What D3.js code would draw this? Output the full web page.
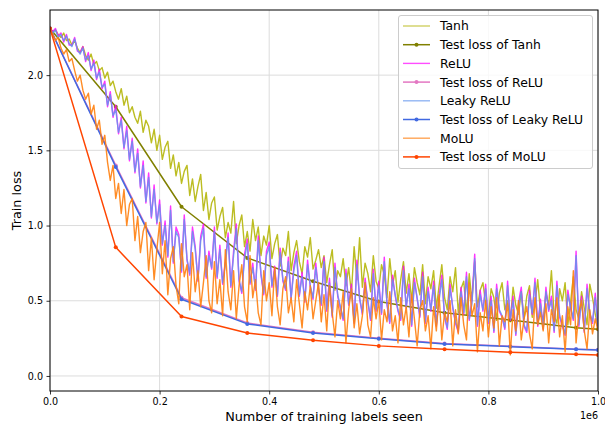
<!DOCTYPE html>
<html>
<head>
<meta charset="utf-8">
<script src="https://cdn.jsdelivr.net/npm/d3@7"></script>
<style>
  body { margin: 0; background: #fff; }
  text { font-family: "DejaVu Sans", sans-serif; }
</style>
</head>
<body>
<svg id="chart" width="605" height="424"></svg>
<script>
// training loss recorded every 5000 labels, test loss every 120000
var trainStep = 5000;

var tanhTrain = [
  2.31, 2.29, 2.30, 2.27, 2.25, 2.28, 2.23, 2.24, 2.20, 2.23, 2.18, 2.15, 2.19, 2.13, 2.10, 2.14, 2.07, 2.09, 2.03, 2.05,
  1.98, 2.02, 1.93, 1.96, 1.89, 1.84, 1.91, 1.80, 1.86, 1.75, 1.79, 1.72, 1.68, 1.76, 1.62, 1.70, 1.66, 1.55, 1.64, 1.50,
  1.60, 1.44, 1.52, 1.56, 1.38, 1.47, 1.33, 1.42, 1.28, 1.36, 1.40, 1.20, 1.31, 1.16, 1.26, 1.34, 1.10, 1.22, 1.04, 1.15,
  1.19, 0.97, 1.06, 1.12, 0.92, 1.02, 0.95, 1.16, 0.88, 1.00, 1.07, 0.86, 0.96, 0.83, 1.04, 0.90, 0.99, 0.80, 0.93, 0.87,
  1.00, 0.78, 0.88, 0.94, 0.73, 0.85, 0.80, 0.96, 0.70, 0.82, 0.90, 0.76, 0.68, 0.86, 0.79, 0.92, 0.71, 0.77, 0.84, 0.72,
  0.80, 0.62, 0.74, 0.84, 0.57, 0.70, 0.66, 0.78, 0.60, 0.72, 0.55, 0.86, 0.64, 0.92, 0.59, 0.75, 0.68, 0.56, 0.80, 0.63,
  0.58, 0.74, 0.67, 0.52, 0.78, 0.60, 0.70, 0.49, 0.64, 0.76, 0.55, 0.68, 0.50, 0.72, 0.62, 0.54, 0.74, 0.48, 0.66, 0.58,
  0.70, 0.45, 0.60, 0.74, 0.52, 0.44, 0.66, 0.56, 0.72, 0.42, 0.58, 0.63, 0.41, 0.68, 0.50, 0.76, 0.46, 0.57, 0.62, 0.48,
  0.40, 0.58, 0.52, 0.37, 0.55, 0.62, 0.44, 0.50, 0.36, 0.59, 0.47, 0.41, 0.56, 0.38, 0.53, 0.60, 0.39, 0.48, 0.64, 0.43,
  0.37, 0.55, 0.47, 0.70, 0.40, 0.35, 0.58, 0.50, 0.62, 0.34, 0.49, 0.66, 0.44, 0.38, 0.56, 0.45, 0.34, 0.61, 0.52, 0.41,
  0.33
];

var reluTrain = [
  2.31, 2.29, 2.31, 2.26, 2.28, 2.22, 2.27, 2.20, 2.20, 2.25, 2.16, 2.15, 2.19, 2.09, 2.15, 2.03, 2.10, 1.97, 2.04, 1.91,
  1.96, 1.79, 1.89, 1.72, 1.80, 1.61, 1.72, 1.51, 1.66, 1.43, 1.58, 1.35, 1.51, 1.25, 1.43, 1.15, 1.35, 1.05, 1.27, 1.01,
  1.17, 0.87, 1.03, 0.79, 1.13, 0.75, 0.99, 0.94, 0.69, 1.07, 0.77, 0.67, 0.99, 0.86, 0.63, 0.93, 1.01, 0.65, 0.83, 0.71,
  0.99, 0.65, 0.87, 0.61, 0.76, 0.95, 0.59, 0.83, 1.01, 0.63, 0.55, 0.81, 0.91, 0.61, 0.75, 0.57, 0.93, 0.67, 0.54, 0.83,
  0.89, 0.59, 0.73, 0.53, 0.85, 0.63, 0.57, 0.79, 0.51, 0.73, 0.83, 0.53, 0.69, 0.49, 0.77, 0.59, 0.51, 0.75, 0.57, 0.47,
  0.79, 0.43, 0.65, 0.39, 0.75, 0.53, 0.45, 0.37, 0.71, 0.47, 0.61, 0.35, 0.77, 0.51, 0.41, 0.65, 0.49, 0.37, 0.71, 0.43,
  0.63, 0.41, 0.79, 0.47, 0.35, 0.67, 0.53, 0.43, 0.37, 0.73, 0.45, 0.61, 0.33, 0.65, 0.51, 0.39, 0.69, 0.35, 0.59, 0.43,
  0.63, 0.33, 0.53, 0.67, 0.39, 0.31, 0.61, 0.45, 0.35, 0.29, 0.59, 0.41, 0.69, 0.37, 0.51, 0.81, 0.33, 0.57, 0.43, 0.61,
  0.35, 0.53, 0.29, 0.61, 0.43, 0.39, 0.31, 0.63, 0.37, 0.53, 0.27, 0.49, 0.59, 0.33, 0.29, 0.57, 0.41, 0.65, 0.33, 0.51,
  0.31, 0.59, 0.43, 0.53, 0.29, 0.63, 0.39, 0.33, 0.27, 0.57, 0.45, 0.37, 0.83, 0.33, 0.53, 0.29, 0.61, 0.41, 0.35, 0.55,
  0.33
];

var leakyTrain = [
  2.31, 2.28, 2.30, 2.25, 2.27, 2.23, 2.26, 2.21, 2.19, 2.24, 2.17, 2.14, 2.18, 2.10, 2.13, 2.04, 2.08, 1.98, 2.02, 1.92,
  1.94, 1.80, 1.87, 1.73, 1.77, 1.62, 1.70, 1.52, 1.63, 1.44, 1.56, 1.36, 1.48, 1.26, 1.40, 1.16, 1.32, 1.06, 1.24, 1.02,
  1.14, 0.88, 1.00, 0.80, 1.10, 0.76, 0.96, 0.92, 0.70, 1.04, 0.78, 0.68, 0.96, 0.84, 0.64, 0.90, 0.98, 0.66, 0.80, 0.72,
  0.96, 0.66, 0.84, 0.62, 0.74, 0.92, 0.60, 0.80, 0.98, 0.64, 0.56, 0.78, 0.88, 0.62, 0.72, 0.58, 0.90, 0.68, 0.55, 0.80,
  0.86, 0.60, 0.70, 0.54, 0.82, 0.64, 0.58, 0.76, 0.52, 0.70, 0.80, 0.54, 0.66, 0.50, 0.74, 0.60, 0.52, 0.72, 0.58, 0.48,
  0.76, 0.44, 0.62, 0.40, 0.72, 0.54, 0.46, 0.38, 0.68, 0.48, 0.58, 0.36, 0.74, 0.52, 0.42, 0.62, 0.50, 0.38, 0.68, 0.44,
  0.60, 0.42, 0.76, 0.48, 0.36, 0.64, 0.54, 0.44, 0.38, 0.70, 0.46, 0.58, 0.34, 0.62, 0.52, 0.40, 0.66, 0.36, 0.56, 0.44,
  0.60, 0.34, 0.50, 0.64, 0.40, 0.32, 0.58, 0.46, 0.36, 0.30, 0.56, 0.42, 0.66, 0.38, 0.48, 0.78, 0.34, 0.54, 0.44, 0.58,
  0.36, 0.50, 0.30, 0.58, 0.44, 0.40, 0.32, 0.60, 0.38, 0.50, 0.28, 0.46, 0.56, 0.34, 0.30, 0.54, 0.42, 0.62, 0.34, 0.48,
  0.32, 0.56, 0.44, 0.50, 0.30, 0.60, 0.40, 0.34, 0.28, 0.54, 0.46, 0.38, 0.80, 0.34, 0.50, 0.30, 0.58, 0.42, 0.36, 0.52,
  0.32
];

var moluTrain = [
  2.31, 2.27, 2.23, 2.25, 2.18, 2.14, 2.17, 2.09, 2.11, 2.03, 1.96, 2.00, 1.90, 1.84, 1.88, 1.74, 1.80, 1.64, 1.70, 1.54,
  1.60, 1.42, 1.30, 1.40, 1.18, 1.28, 1.08, 1.24, 1.00, 1.14, 1.18, 0.90, 1.06, 0.82, 0.96, 1.02, 0.70, 0.92, 0.64, 0.84,
  1.02, 0.68, 0.90, 0.54, 0.78, 0.86, 0.60, 0.48, 0.88, 0.66, 0.74, 0.44, 0.82, 0.56, 0.70, 0.46, 0.62, 0.80, 0.50, 0.42,
  0.76, 0.48, 0.64, 0.40, 0.84, 0.56, 0.44, 0.70, 0.38, 0.60, 0.74, 0.46, 0.36, 0.80, 0.52, 0.64, 0.42, 0.34, 0.70, 0.50,
  0.62, 0.40, 0.72, 0.46, 0.34, 0.58, 0.66, 0.42, 0.52, 0.36, 0.64, 0.48, 0.32, 0.56, 0.44, 0.60, 0.38, 0.50, 0.62, 0.36,
  0.54, 0.30, 0.60, 0.42, 0.26, 0.50, 0.38, 0.56, 0.22, 0.44, 0.58, 0.32, 0.48, 0.28, 0.40, 0.62, 0.34, 0.26, 0.52, 0.38,
  0.50, 0.24, 0.44, 0.36, 0.56, 0.30, 0.40, 0.22, 0.52, 0.34, 0.46, 0.26, 0.54, 0.38, 0.20, 0.44, 0.50, 0.30, 0.40, 0.18,
  0.46, 0.30, 0.54, 0.24, 0.42, 0.36, 0.50, 0.20, 0.44, 0.28, 0.52, 0.34, 0.24, 0.62, 0.40, 0.48, 0.16, 0.42, 0.30, 0.50,
  0.26, 0.46, 0.32, 0.52, 0.20, 0.40, 0.36, 0.48, 0.14, 0.44, 0.30, 0.50, 0.24, 0.38, 0.46, 0.28, 0.18, 0.52, 0.34, 0.42,
  0.30, 0.48, 0.22, 0.44, 0.36, 0.52, 0.26, 0.40, 0.16, 0.46, 0.34, 0.70, 0.22, 0.42, 0.50, 0.30, 0.18, 0.44, 0.28, 0.38,
  0.30
];

var testSeen = [0, 120000, 240000, 360000, 480000, 600000, 720000, 840000, 960000, 1000000];
var tanhTest  = [2.31, 1.79, 1.125, 0.785, 0.63, 0.495, 0.42, 0.372, 0.32, 0.31];
var reluTest  = [2.31, 1.40, 0.52, 0.352, 0.29, 0.25, 0.215, 0.197, 0.178, 0.175];
var leakyTest = [2.31, 1.39, 0.51, 0.346, 0.286, 0.247, 0.212, 0.195, 0.177, 0.173];
var moluTest  = [2.31, 0.855, 0.395, 0.286, 0.237, 0.20, 0.177, 0.157, 0.144, 0.14];

var xTicks = [0, 200000, 400000, 600000, 800000, 1000000];
var yTicks = [0, 0.5, 1.0, 1.5, 2.0];

var series = [
  { name: "Tanh", values: tanhTrain, color: "#bcbd22", width: 1.4, opacity: 1, marker: false },
  { name: "Test loss of Tanh", values: tanhTest, color: "#808000", width: 1.5, opacity: 1, marker: true },
  { name: "ReLU", values: reluTrain, color: "#ff00ff", width: 1.4, opacity: 0.8, marker: false },
  { name: "Test loss of ReLU", values: reluTest, color: "#e377c2", width: 1.5, opacity: 1, marker: true },
  { name: "Leaky ReLU", values: leakyTrain, color: "#6495ed", width: 1.4, opacity: 0.85, marker: false },
  { name: "Test loss of Leaky ReLU", values: leakyTest, color: "#4169e1", width: 1.5, opacity: 1, marker: true },
  { name: "MoLU", values: moluTrain, color: "#ff7f0e", width: 1.4, opacity: 0.9, marker: false },
  { name: "Test loss of MoLU", values: moluTest, color: "#ff4500", width: 1.5, opacity: 1, marker: true }
];

var W = 605, H = 424;
var margin = { top: 10, right: 7, bottom: 33, left: 50 };

var svg = d3.select("#chart");

var x = d3.scaleLinear().domain([0, 1000000]).range([margin.left, W - margin.right]);
var y = d3.scaleLinear().domain([-0.1, 2.433]).range([H - margin.bottom, margin.top]);

svg.append("clipPath").attr("id", "plot-clip")
  .append("rect")
  .attr("x", margin.left).attr("y", margin.top)
  .attr("width", W - margin.left - margin.right)
  .attr("height", H - margin.top - margin.bottom);

// grid
var grid = svg.append("g");
grid.selectAll(".gx").data(xTicks).enter().append("line")
  .attr("x1", function (d) { return x(d); }).attr("x2", function (d) { return x(d); })
  .attr("y1", margin.top).attr("y2", H - margin.bottom)
  .attr("stroke", "#dcdcdc").attr("stroke-width", 1);
grid.selectAll(".gy").data(yTicks).enter().append("line")
  .attr("y1", function (d) { return y(d); }).attr("y2", function (d) { return y(d); })
  .attr("x1", margin.left).attr("x2", W - margin.right)
  .attr("stroke", "#dcdcdc").attr("stroke-width", 1);

var plot = svg.append("g").attr("clip-path", "url(#plot-clip)");

var line = d3.line()
  .x(function (d) { return x(d[0]); })
  .y(function (d) { return y(d[1]); });

series.forEach(function (s) {
  var pts = s.marker
    ? s.values.map(function (v, i) { return [testSeen[i], v]; })
    : s.values.map(function (v, i) { return [i * trainStep, v]; });
  plot.append("path")
    .datum(pts)
    .attr("d", line)
    .attr("fill", "none")
    .attr("stroke", s.color)
    .attr("stroke-width", s.width)
    .attr("stroke-opacity", s.opacity)
    .attr("stroke-linejoin", "round");
  if (s.marker) {
    plot.selectAll(null).data(pts).enter().append("circle")
      .attr("cx", function (d) { return x(d[0]); })
      .attr("cy", function (d) { return y(d[1]); })
      .attr("r", 2)
      .attr("fill", s.color);
  }
});

// axes
var xAxis = d3.axisBottom(x).tickValues(xTicks)
  .tickFormat(function (d) { return (d / 1e6).toFixed(1); })
  .tickSize(3.5).tickPadding(3.5);
var yAxis = d3.axisLeft(y).tickValues(yTicks)
  .tickFormat(d3.format(".1f"))
  .tickSize(3.5).tickPadding(3.5);

var gx = svg.append("g").attr("transform", "translate(0," + (H - margin.bottom) + ")").call(xAxis);
var gy = svg.append("g").attr("transform", "translate(" + margin.left + ",0)").call(yAxis);
[gx, gy].forEach(function (g) {
  g.select(".domain").remove();
  g.selectAll("text").attr("font-size", 9.6).attr("fill", "#000").style("font-family", "DejaVu Sans");
  g.selectAll("line").attr("stroke", "#000").attr("stroke-width", 0.8);
});

// frame
svg.append("rect")
  .attr("x", margin.left).attr("y", margin.top)
  .attr("width", W - margin.left - margin.right)
  .attr("height", H - margin.top - margin.bottom)
  .attr("fill", "none").attr("stroke", "#000").attr("stroke-width", 1);

svg.append("text")
  .attr("x", W - margin.right).attr("y", 419)
  .attr("text-anchor", "end").attr("font-size", 9.6)
  .text("1e6");

svg.append("text")
  .attr("x", (margin.left + W - margin.right) / 2).attr("y", 421)
  .attr("text-anchor", "middle").attr("font-size", 12.8)
  .text("Number of training labels seen");

svg.append("text")
  .attr("transform", "translate(21," + ((margin.top + H - margin.bottom) / 2) + ") rotate(-90)")
  .attr("text-anchor", "middle").attr("font-size", 12.8)
  .text("Train loss");

// legend
var lg = svg.append("g").attr("transform", "translate(398.5,15.5)");
lg.append("rect")
  .attr("width", 194).attr("height", 153)
  .attr("rx", 2.5)
  .attr("fill", "#fff").attr("fill-opacity", 0.8)
  .attr("stroke", "#cccccc").attr("stroke-width", 1);

var rows = lg.selectAll(".row").data(series).enter().append("g")
  .attr("transform", function (d, i) { return "translate(0," + (10.5 + i * 18.7) + ")"; });
rows.append("line")
  .attr("x1", 4.5).attr("x2", 31.5)
  .attr("stroke", function (d) { return d.color; })
  .attr("stroke-opacity", function (d) { return d.marker ? 1 : Math.min(d.opacity, 0.7); })
  .attr("stroke-width", function (d) { return d.width; });
rows.filter(function (d) { return d.marker; }).append("circle")
  .attr("cx", 18).attr("r", 2)
  .attr("fill", function (d) { return d.color; });
rows.append("text")
  .attr("x", 41.5).attr("y", 4.4)
  .attr("font-size", 12.4)
  .text(function (d) { return d.name; });
</script>
</body>
</html>
